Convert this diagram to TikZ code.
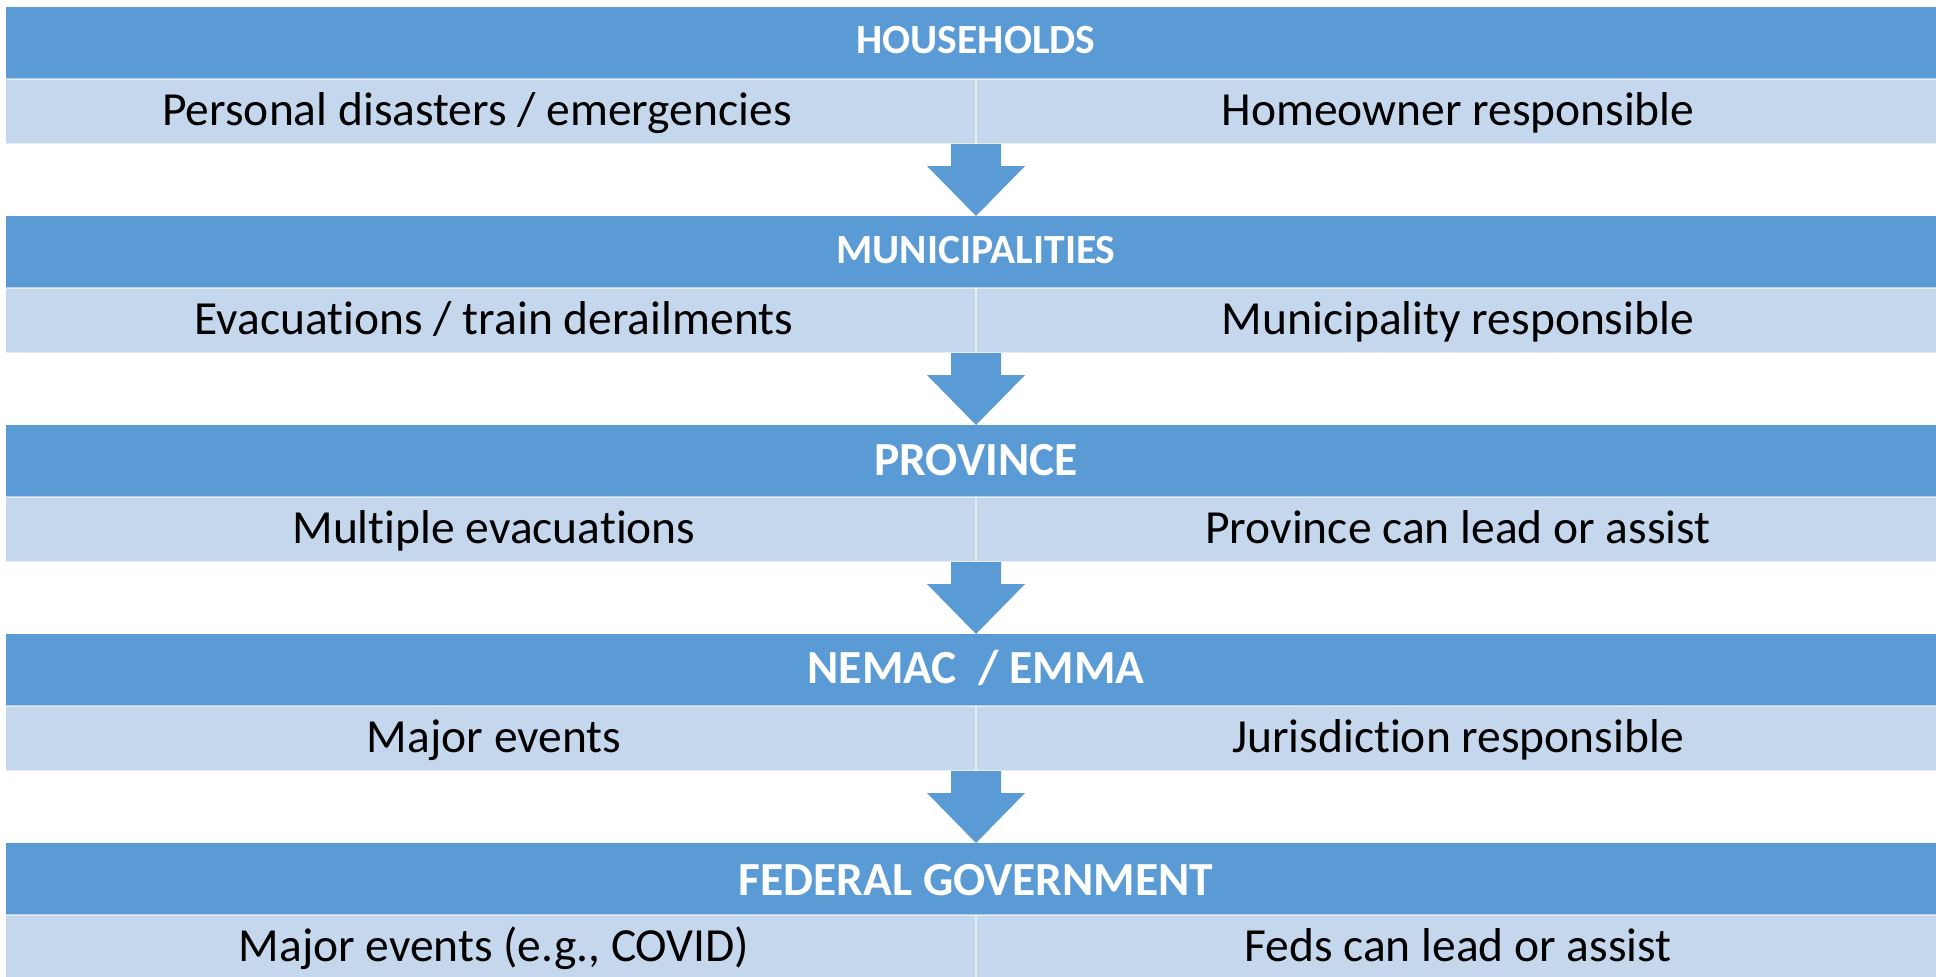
\documentclass[tikz,border=0pt]{standalone}
\usepackage{fontspec}
\setmainfont{Carlito}[Ligatures=NoCommon]
\usetikzlibrary{calc}
\definecolor{hdrblue}{HTML}{5B9BD5}
\definecolor{rowblue}{HTML}{C5D7EC}
\begin{document}
\begin{tikzpicture}[x=1pt,y=-1pt,
  hdrbox/.style={fill=hdrblue, draw=none, minimum width=1940pt, minimum height=72pt, inner sep=0pt, outer sep=0pt, anchor=north west},
  cellbox/.style={fill=rowblue, draw=none, minimum width=970pt, minimum height=65pt, inner sep=0pt, outer sep=0pt, anchor=north west},
  hdrtext/.style={text=white, font=\fontsize{41.5}{48}\selectfont\bfseries, anchor=base, inner sep=0pt},
  hdrtextbig/.style={text=white, font=\fontsize{47.5}{56}\selectfont\bfseries, anchor=base, inner sep=0pt},
  celltext/.style={text=black, font=\fontsize{47.5}{56}\selectfont, anchor=base, inner sep=0pt},
  sep/.style={draw=white, opacity=0.55, line width=1.5pt},
  flow/.style={fill=hdrblue, draw=none}]
\useasboundingbox[fill=white] (0,0) rectangle (1936,977);

% boxes
\foreach \k in {0,...,4}{
  \node[hdrbox] (h\k) at (6,{7+209*\k}) {};
  \node[cellbox] (l\k) at (6,{79+209*\k}) {};
  \node[cellbox] (r\k) at (976,{79+209*\k}) {};
  \draw[sep] (l\k.north west) -- (r\k.north east);
  \draw[sep] (l\k.south west) -- (r\k.south east);
  \draw[sep] (r\k.north west) -- (r\k.south west);
}

% arrows
\foreach \k [evaluate=\k as \n using int(\k+1)] in {0,...,3}{
  \fill[flow] ($(l\k.south east)+(-25,0)$) -- ++(0,22) -- ++(-24,0) -- (h\n.north)
     -- ++(49,-50) -- ++(-24,0) -- ++(0,-22) -- cycle;
}

% texts
\node[hdrtext] (t0) at (976,53.5) {HOUSEHOLDS};
\node[celltext] (a0) at (477,125) {Personal disasters / emergencies};
\node[celltext] (b0) at (1458,125) {Homeowner responsible};

\node[hdrtext] (t1) at (976,263) {MUNICIPALITIES};
\node[celltext] (a1) at (494,334) {Evacuations / train derailments};
\node[celltext] (b1) at (1458,334) {Municipality responsible};

\node[hdrtextbig] (t2) at (976,475) {PROVINCE};
\node[celltext] (a2) at (494,543) {Multiple evacuations};
\node[celltext] (b2) at (1458,543) {Province can lead or assist};

\node[hdrtextbig] (t3) at (976,683.5) {NEMAC \ / EMMA};
\node[celltext] (a3) at (494,752) {Major events};
\node[celltext] (b3) at (1458,752) {Jurisdiction responsible};

\node[hdrtextbig] (t4) at (976,895) {FEDERAL GOVERNMENT};
\node[celltext] (a4) at (494,961) {Major events (e.g., COVID)};
\node[celltext] (b4) at (1458,961) {Feds can lead or assist};
\end{tikzpicture}
\end{document}
